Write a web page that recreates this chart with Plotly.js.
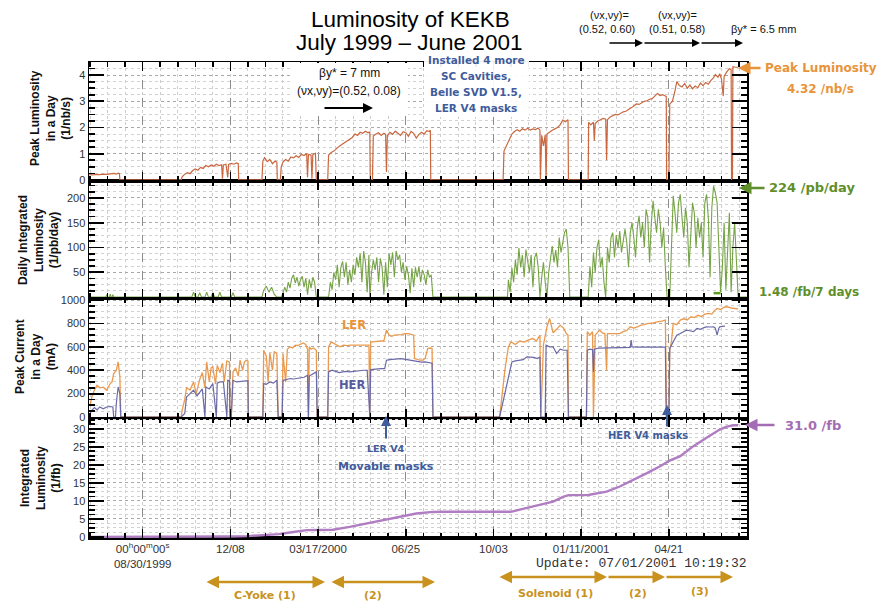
<!DOCTYPE html>
<html><head><meta charset="utf-8">
<script src="https://cdn.plot.ly/plotly-3.0.1.min.js"></script>
<style>html,body{margin:0;padding:0;background:#fff}#chart{width:878px;height:608px}</style>
</head><body><div id="chart"></div>
<script>
// ---- x axis: days since 1999-08-30 ----
const TICK_DAYS = [0, 100, 200, 300, 400, 500, 600];
const TICK_LABELS = ['00<sup>h</sup>00<sup>m</sup>00<sup>s</sup><br>08/30/1999', '12/08', '03/17/2000', '06/25', '10/03', '01/11/2001', '04/21'];
const X_RANGE = [-61.2, 689.1];

// ---- Peak luminosity in a day (1/nb/s): [day, value] ----
const PEAK_LUMI = [[-61,0.20],[-57,0.19],[-53,0.21],[-49,0.20],[-45,0.22],[-41,0.21],[-37,0.23],[-33,0.25],[-30,0.22],[-28,0.26],[-26.5,0.25],[-26,0],
[44,0],[45,0.12],[48,0.22],[51,0.28],[54,0.24],[57,0.36],[60,0.42],[63,0.37],[66,0.48],[69,0.44],[72,0.55],[75,0.5],[78,0.57],[81,0.52],[84,0.6],[87,0.55],[90,0.58],[91,0.05],[92,0.57],[95,0.6],[97,0.1],[98,0.59],[101,0.63],[104,0.6],[107,0.65],[109,0.62],[109.5,0],
[136,0],[137,0.72],[139,0.85],[142,0.7],[145,0.78],[148,0.62],[151,0.72],[153,0.68],[153.5,0],[157,0],[158,0.5],[160,0.68],[163,0.78],[166,0.72],[169,0.88],[172,0.84],[175,0.92],[178,0.86],[181,0.97],[184,0.93],[187,1.0],[188,0.1],[189,0.97],[192,0.95],[193,0.05],[194,0.96],[197,1.02],[198,0],
[211,0],[212,0.95],[215,1.05],[218,1.1],[221,1.2],[224,1.28],[227,1.35],[230,1.42],[233,1.5],[236,1.55],[239,1.62],[242,1.75],[245,1.7],[248,1.82],[251,1.78],[254,1.86],[257,1.8],[259,1.84],[259.5,0],[262,0],[263,1.68],[266,1.75],[269,1.8],[272,1.7],[275,1.78],[277,1.74],[278,0.3],[279,1.7],[282,1.82],[285,1.74],[288,1.86],[291,1.78],[294,1.7],[297,1.84],[300,1.8],[303,1.66],[306,1.85],[309,1.78],[312,1.6],[315,1.74],[318,1.82],[321,1.75],[324,1.88],[327,1.85],[328,1.9],[328.5,0],
[411,0],[412,1.1],[415,1.3],[418,1.55],[421,1.75],[424,1.85],[427,1.92],[430,1.86],[433,1.95],[436,1.9],[439,1.97],[442,1.9],[445,1.95],[448,1.92],[451,1.98],[453,1.9],[453.5,0],[455,1.7],[457,1.3],[459,1.72],[460,0],[461,1.75],[464,1.84],[467,1.9],[470,1.95],[473,2.0],[476,2.1],[479,2.28],[482,2.22],[485,2.3],[485.5,0],
[508,0],[508.5,2.2],[511,2.1],[514,2.2],[515,1.5],[516,2.15],[519,2.25],[522,2.3],[525,2.35],[528,2.32],[529,0.75],[530,2.3],[533,2.4],[536,2.45],[539,2.5],[542,2.48],[545,2.55],[548,2.6],[551,2.62],[554,2.7],[557,2.75],[560,2.82],[563,2.9],[566,2.88],[569,2.95],[572,3.0],[575,3.02],[578,3.08],[581,3.1],[584,3.2],[587,3.3],[590,3.22],[593,3.25],[596,3.2],[597,3.18],[597.5,0],[600,0],[601,2.9],[604,3.0],[607,3.4],[609,3.75],[612,3.6],[615,3.55],[618,3.68],[621,3.5],[624,3.62],[627,3.48],[630,3.58],[633,3.52],[636,3.7],[639,3.6],[642,3.72],[645,3.65],[648,3.8],[651,3.9],[653,4.02],[656,3.92],[658,4.05],[660,3.85],[662,3.2],[663,3.95],[666,4.12],[669,4.25],[671,4.2],[671.5,0],[672.5,0],[673,4.32],[676,4.3],[679,4.3]];

// ---- Daily integrated luminosity (1/pb/day) ----
const DAILY_LUMI = [[-61,0],[-42,0],[-41,5],[-40,0],[-38,0],[-37,6],[-36,0],[-35,0],[-34,5],[-33,0],
[56,0],[58,10],[60,0],[63,0],[65,9],[67,0],[71,0],[73,10],[75,0],[78,0],[80,9],[82,0],[86,0],[88,10],[90,0],[101,0],[103,9],[105,0],
[136,0],[138,14],[141,22],[144,10],[147,20],[150,6],[153,0],
[158,0],[160,8],[162,20],[164,10],[166,30],[168,18],[170,38],[172,45],[174,28],[176,40],[178,22],[180,35],[182,42],[184,20],[186,38],[188,5],[190,36],[192,18],[194,40],[196,30],[198,0],
[212,0],[214,30],[216,15],[218,50],[220,35],[222,65],[224,20],[226,60],[228,72],[230,40],[232,70],[234,25],[236,55],[238,30],[240,65],[242,45],[244,80],[246,60],[248,88],[250,30],[252,93],[254,70],[256,10],[258,85],[259,0],[261,50],[263,75],[265,55],[267,80],[269,30],[271,78],[273,60],[275,5],[277,70],[279,20],[281,88],[283,65],[285,90],[287,40],[289,93],[291,75],[293,85],[295,50],[297,70],[299,35],[301,62],[303,45],[305,8],[307,58],[309,20],[311,60],[313,40],[315,62],[317,30],[319,55],[321,45],[323,25],[325,55],[327,40],[329,45],[331,0],
[416,0],[417,35],[419,10],[421,59],[423,30],[425,75],[427,45],[429,99],[431,60],[433,85],[435,40],[437,96],[439,70],[441,50],[443,85],[445,20],[447,80],[449,89],[451,60],[453,0],[455,40],[457,70],[459,30],[461,0],[463,50],[465,80],[467,103],[469,70],[471,95],[473,60],[475,120],[477,90],[479,110],[481,130],[483,137],[485,100],[487,0],
[508,0],[510,62],[512,20],[514,90],[516,50],[518,100],[520,116],[522,60],[524,80],[526,30],[528,0],[530,100],[532,70],[534,120],[536,130],[538,80],[540,125],[542,100],[544,133],[546,90],[548,120],[550,137],[552,110],[554,60],[556,130],[558,150],[560,120],[562,80],[564,140],[566,164],[568,120],[570,150],[572,100],[574,177],[576,160],[578,70],[580,150],[582,194],[584,160],[586,130],[588,177],[590,150],[592,100],[594,140],[596,60],[598,0],
[601,0],[603,120],[605,204],[607,170],[609,130],[611,190],[613,207],[615,160],[617,120],[619,180],[621,150],[623,60],[625,140],[627,190],[629,170],[631,100],[633,160],[635,120],[637,150],[639,80],[641,190],[643,207],[645,160],[647,40],[649,180],[651,224],[653,210],[655,190],[657,100],[659,10],[661,60],[663,150],[665,15],[667,80],[669,170],[671,10],[673,100],[675,150],[677,60],[679,0],[689,0]];
const WEEK_BAR = [[651,8],[659,8]];

// ---- Peak current in a day (mA) ----
const LER_CURRENT = [[-60,100],[-58,171],[-55,230],[-52,271],[-49,250],[-45,255],[-41,230],[-37,286],[-35,300],[-33,371],[-30,400],[-28,471],[-26,343],[-25,0],
[44,0],[45,60],[48,150],[50,250],[54,230],[58,300],[61,200],[65,320],[68,380],[71,250],[73,471],[76,300],[78,420],[80,429],[83,280],[85,440],[88,380],[91,460],[93,300],[96,480],[99,470],[99.5,0],[101,0],[103,386],[106,420],[109,350],[111,486],[114,400],[116,470],[118,486],[120,480],[120.5,0],
[137,0],[138,571],[141,520],[143,300],[145,550],[148,400],[150,560],[153,540],[154.5,0],[159,0],[160,543],[163,300],[165,580],[168,600],[171,590],[174,614],[177,610],[180,625],[183,634],[186,620],[188,580],[189,0],[190,600],[192,580],[195,590],[198,571],[199,0],
[211,0],[212,600],[215,643],[218,630],[221,610],[225,600],[229,614],[233,610],[237,614],[241,614],[245,614],[249,614],[253,614],[258,614],[259,0],[260,640],[264,645],[268,650],[272,650],[275,650],[278,743],[281,700],[284,690],[287,700],[291,700],[295,705],[299,714],[303,714],[307,705],[309,700],[310,500],[313,490],[316,486],[319,486],[322,500],[325,586],[328,590],[330,586],[331,0],
[407,0],[409,150],[413,400],[417,600],[420,643],[425,620],[430,650],[435,640],[440,660],[445,671],[449,650],[453,700],[454,0],[457,620],[461,771],[464,843],[468,720],[472,750],[476,786],[480,760],[483,714],[485,700],[485.5,0],
[506,0],[507,729],[510,700],[513,729],[514,0],[516,700],[521,743],[524,720],[527,714],[529,400],[530,714],[534,714],[539,720],[544,714],[548,730],[552,740],[556,771],[560,760],[564,770],[568,785],[572,790],[576,800],[580,800],[584,810],[588,815],[592,820],[596,829],[597.5,0],
[600,0],[601,571],[603,650],[605,800],[609,790],[613,829],[617,840],[621,830],[625,857],[629,850],[633,870],[637,860],[641,880],[645,886],[649,880],[652,910],[655,929],[659,920],[663,940],[666,943],[670,935],[673,930],[679,925]];
const HER_CURRENT = [[-60,30],[-58,57],[-55,80],[-52,60],[-49,86],[-45,70],[-41,86],[-37,90],[-34,86],[-33,0],[-31,0],[-30,120],[-28,257],[-26,200],[-25,0],
[44,0],[48,30],[50,171],[54,200],[58,229],[62,180],[65,210],[68,240],[71,0],[72,257],[76,240],[80,286],[84,0],[85,290],[88,300],[92,300],[96,0],[97,314],[99,310],[99.5,0],[101,0],[103,314],[107,300],[111,305],[115,310],[118,314],[120,310],[120.5,0],
[137,0],[138,286],[141,280],[145,300],[149,290],[153,314],[154.5,0],[159,0],[160,314],[164,320],[168,329],[172,325],[176,329],[180,335],[184,340],[188,357],[189,0],[190,350],[194,370],[198,386],[199,0],
[211,0],[212,386],[216,400],[220,390],[224,380],[228,386],[232,390],[236,386],[240,390],[244,395],[248,400],[252,400],[256,400],[259,0],[260,405],[264,410],[268,414],[272,414],[276,414],[278,486],[282,490],[286,495],[290,500],[294,500],[298,495],[302,490],[306,486],[310,480],[314,471],[318,470],[322,471],[326,465],[330,460],[331,0],
[407,0],[410,100],[413,200],[415,286],[419,400],[421,471],[425,480],[430,486],[434,490],[438,514],[442,514],[446,510],[450,500],[453,514],[454,0],[459,0],[460,614],[464,600],[468,600],[472,543],[476,580],[480,571],[484,571],[485.5,0],
[506,0],[507,571],[510,580],[513,575],[514,386],[515,580],[520,590],[530,592],[540,594],[550,595],[556,596],[557,657],[558,600],[565,597],[575,598],[585,598],[596,598],[597,0],
[600,0],[601,586],[605,640],[609,700],[613,714],[617,735],[620,743],[624,738],[628,730],[632,757],[636,750],[640,765],[643,771],[647,770],[651,771],[653,760],[655,700],[657,760],[658,771],[661,775],[664,777]];

// ---- Integrated luminosity (1/fb) ----
const INT_LUMI = [[-61,0],[40,0.02],[65,0.05],[100,0.15],[120,0.25],[141,0.5],[155,0.8],[172,1.4],[187,1.9],[200,1.95],[212,1.97],[217,2.0],[236,2.8],[255,3.7],[274,4.7],[293,5.6],[312,6.5],[331,6.95],[340,7.0],[419,7.0],[421,7.05],[437,8.0],[453,8.9],[468,9.8],[480,11.2],[486,11.6],[508,11.65],[514,11.9],[529,12.6],[544,14.0],[560,15.8],[575,17.7],[590,19.6],[601,21.2],[613,22.4],[628,25.2],[643,27.5],[658,29.8],[666,30.6],[674,31.0],[679,31.0]];

// ---- helpers ----
const L = 89, R = 747, T = 62, B = 538;
const PX = X => (X - L) / (R - L);
const PY = Y => (B - Y) / (B - T);
const xs = a => a.map(p => p[0]);
const ys = a => a.map(p => p[1]);

function line(data, ax, color, width) {
  return {x: xs(data), y: ys(data), xaxis: ax[0], yaxis: ax[1], mode: 'lines',
    line: {color: color, width: width}, hoverinfo: 'skip', showlegend: false};
}
const traces = [
  line(PEAK_LUMI, ['x', 'y'], '#c9673f', 1.2),
  line(DAILY_LUMI, ['x2', 'y2'], '#76a346', 1.1),
  line(WEEK_BAR, ['x2', 'y2'], '#5f9a22', 2.5),
  line(LER_CURRENT, ['x3', 'y3'], '#ea9a4f', 1.3),
  line(HER_CURRENT, ['x3', 'y3'], '#6b6aa8', 1.2),
  line(INT_LUMI, ['x4', 'y4'], '#b07cc2', 2.4)
];

function xAxis(anchor, labels) {
  const ax = {anchor: anchor, range: X_RANGE, fixedrange: true,
    tickmode: 'array', tickvals: TICK_DAYS,
    showticklabels: labels, ticks: 'inside', ticklen: 9, tickwidth: 1.5, tickcolor: '#000',
    showgrid: true, gridcolor: '#8c8c8c', griddash: 'dash', gridwidth: 1,
    minor: {tickmode: 'linear', tick0: 0, dtick: 20, ticks: 'inside', ticklen: 5, tickcolor: '#000',
      showgrid: true, gridcolor: '#cdcdcd', griddash: 'dot', gridwidth: 1},
    showline: true, linecolor: '#000', linewidth: 1.5, mirror: 'allticks', zeroline: false,
    tickfont: {family: 'Liberation Sans, Arial, sans-serif', size: 11.5, color: '#333'}};
  if (labels) ax.ticktext = TICK_LABELS;
  return ax;
}
function yAxis(domain, range, tickvals, minor) {
  return {domain: domain, range: range, fixedrange: true, tickmode: 'array', tickvals: tickvals,
    ticks: 'inside', ticklen: 15, tickwidth: 1.8, tickcolor: '#000',
    showgrid: true, gridcolor: '#a8a8a8', griddash: 'dot', gridwidth: 1,
    minor: {tickmode: 'linear', tick0: 0, dtick: minor, ticks: 'inside', ticklen: 6, tickcolor: '#000',
      showgrid: true, gridcolor: '#d2d2d2', griddash: 'dot', gridwidth: 1},
    showline: true, linecolor: '#000', linewidth: 1.5, mirror: 'allticks',
    zeroline: true, zerolinecolor: '#000', zerolinewidth: 2,
    tickfont: {family: 'Liberation Sans, Arial, sans-serif', size: 11, color: '#333'}};
}

const ann = [];
function txt(X, Y, text, font, opts) {
  ann.push(Object.assign({xref: 'paper', yref: 'paper', x: PX(X), y: PY(Y), text: text, showarrow: false,
    xanchor: 'center', yanchor: 'middle', font: font}, opts || {}));
}
function arrow(xh, yh, xt, yt, color, width, both) {
  ann.push({xref: 'paper', yref: 'paper', x: PX(xh), y: PY(yh), ax: xt - xh, ay: yt - yh,
    axref: 'pixel', ayref: 'pixel', text: '', showarrow: true, arrowhead: 2, startarrowhead: 2,
    arrowsize: 1, startarrowsize: 1, arrowwidth: width, arrowcolor: color,
    arrowside: both ? 'end+start' : 'end', standoff: 0, startstandoff: 0});
}
const SANS = 'Liberation Sans, Arial, sans-serif';
const BOLD = 'DejaVu Sans, Verdana, sans-serif';
const ORANGE = '#e8943a', GREEN = '#5f8f2a', PURPLE = '#a46db3', BLUE = '#3f5c9c', BROWN = '#c9921f';

// title
txt(410, 19, 'Luminosity of KEKB', {family: SANS, size: 22.5, color: '#000'});
txt(409, 43, 'July 1999 \u2013 June 2001', {family: SANS, size: 22.5, color: '#000'});

// y titles
function ytitle(Xc, Yc, lines) {
  txt(Xc, Yc, lines.map(s => '<b>' + s + '</b>').join('<br>'), {family: SANS, size: 12, color: '#111'}, {textangle: -90});
}
ytitle(50, 118, ['Peak Luminosity', 'in a Day', '(1/nb/s)']);
ytitle(38, 240, ['Daily Integrated', 'Luminosity', '(1/pb/day)']);
ytitle(35, 357, ['Peak Current', 'in a Day', '(mA)']);
ytitle(40, 478, ['Integrated', 'Luminosity', '(1/fb)']);

// panel 1 notes
const small = {family: SANS, size: 12, color: '#111'};
txt(349, 73, '\u03b2y* = 7 mm', small);
txt(349, 91, '(\u03bdx,\u03bdy)=(0.52, 0.08)', small);
arrow(373, 108, 323, 108, '#000', 2);
const blueB = {family: BOLD, size: 10.5, color: BLUE};
txt(476, 60, '<b>Installed 4 more</b>', blueB);
txt(476, 76, '<b>SC Cavities,</b>', blueB);
txt(476, 92, '<b>Belle SVD V1.5,</b>', blueB);
txt(476, 108, '<b>LER V4 masks</b>', blueB);

// top right tune notes
const tiny = {family: SANS, size: 11, color: '#111'};
txt(609, 15, '(\u03bdx,\u03bdy)=', tiny);
txt(607, 29, '(0.52, 0.60)', tiny);
txt(677, 15, '(\u03bdx,\u03bdy)=', tiny);
txt(677, 29, '(0.51, 0.58)', tiny);
txt(763, 29, '\u03b2y* = 6.5 mm', tiny);
arrow(643, 43, 608, 43, '#000', 1.6);
arrow(700, 43, 643, 43, '#000', 1.6);
arrow(743, 43, 700, 43, '#000', 1.6);

// right-hand labels
const lab = (c, s) => ({family: BOLD, size: s || 12, color: c});
arrow(738, 68, 762, 68, ORANGE, 2.5);
txt(763, 68, '<b>Peak Luminosity</b>', lab(ORANGE), {xanchor: 'left'});
txt(820, 89, '<b>4.32 /nb/s</b>', lab(ORANGE));
arrow(739, 188, 766, 188, GREEN, 2.5);
txt(767, 188, '<b>224 /pb/day</b>', lab(GREEN, 13), {xanchor: 'left'});
txt(757, 292, '<b>1.48 /fb/7 days</b>', lab(GREEN), {xanchor: 'left'});
arrow(745, 425, 776, 425, PURPLE, 2.5);
txt(783, 425, '<b>31.0 /fb</b>', lab(PURPLE, 13), {xanchor: 'left'});

// panel 3 / 4 notes
txt(354, 325, '<b>LER</b>', {family: BOLD, size: 11.5, color: ORANGE});
txt(352, 385, '<b>HER</b>', {family: BOLD, size: 11.5, color: '#5a5a9e'});
arrow(386, 416, 386, 440, BLUE, 2);
txt(386, 448, '<b>LER V4</b>', {family: BOLD, size: 9.5, color: BLUE});
txt(386, 466, '<b>Movable masks</b>', {family: BOLD, size: 11, color: BLUE});
arrow(667, 405, 667, 428, BLUE, 2);
txt(648, 435, '<b>HER V4 masks</b>', {family: BOLD, size: 10, color: BLUE});

// update stamp
txt(641, 563, 'Update: 07/01/2001 10:19:32', {family: 'Liberation Mono, Courier New, monospace', size: 13, color: '#333'});

// bottom run periods
arrow(325, 582, 205, 582, BROWN, 2.5, true);
arrow(435, 582, 330, 582, BROWN, 2.5, true);
arrow(607, 577, 498, 577, BROWN, 2.5, true);
arrow(665, 577, 607, 577, BROWN, 2.5);
arrow(733, 577, 665, 577, BROWN, 2.5);
const bl = {family: BOLD, size: 11, color: BROWN};
txt(265, 595, '<b>C-Yoke (1)</b>', bl);
txt(373, 595, '<b>(2)</b>', bl);
txt(555, 593, '<b>Solenoid (1)</b>', bl);
txt(638, 593, '<b>(2)</b>', bl);
txt(700, 591, '<b>(3)</b>', bl);

const shapes = [
  {type: 'rect', xref: 'paper', yref: 'paper', x0: PX(290), x1: PX(408), y0: PY(116), y1: PY(63),
    fillcolor: '#fff', line: {width: 0}, layer: 'above'},
  {type: 'rect', xref: 'paper', yref: 'paper', x0: PX(424), x1: PX(529), y0: PY(117), y1: PY(52),
    fillcolor: 'rgba(255,255,255,0.93)', line: {width: 0}, layer: 'above'}
];

const layout = {
  width: 878, height: 608, margin: {l: L, r: 878 - R, t: T, b: 608 - B},
  paper_bgcolor: '#fff', plot_bgcolor: '#fff', showlegend: false,
  font: {family: SANS, color: '#222'},
  xaxis: xAxis('y', false), xaxis2: xAxis('y2', false), xaxis3: xAxis('y3', false), xaxis4: xAxis('y4', true),
  yaxis: yAxis([0.75, 1], [-0.04, 4.5], [0, 1, 2, 3, 4], 0.25),
  yaxis2: yAxis([0.504, 0.75], [-2, 234], [50, 100, 150, 200], 12.5),
  yaxis3: yAxis([0.2521, 0.504], [-8.5, 1017], [0, 200, 400, 600, 800, 1000], 50),
  yaxis4: yAxis([0, 0.2521], [-0.28, 33], [0, 5, 10, 15, 20, 25, 30], 1.25),
  annotations: ann, shapes: shapes
};
Plotly.newPlot('chart', traces, layout, {displayModeBar: false, staticPlot: true});
</script></body></html>
